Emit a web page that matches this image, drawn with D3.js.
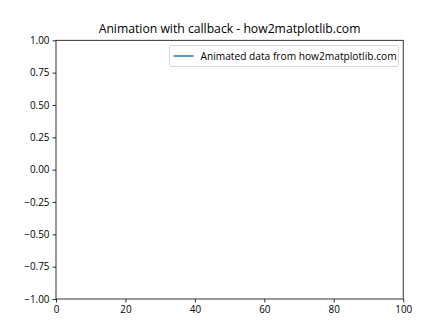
<!DOCTYPE html>
<html>
<head>
<meta charset="utf-8">
<script src="https://cdn.jsdelivr.net/npm/d3@7"></script>
<style>
  body { margin: 0; background: #fff; }
  text { font-family: "Open Sans", "Noto Sans", sans-serif; fill: #000; }
</style>
</head>
<body>
<div id="chart"></div>
<script>
// data (the animated line is still empty in this frame)
const xData = [];
const yData = [];
const xTicks = [0, 20, 40, 60, 80, 100];
const yTicks = [-1.00, -0.75, -0.50, -0.25, 0.00, 0.25, 0.50, 0.75, 1.00];
const title = 'Animation with callback - how2matplotlib.com';
const legendLabel = 'Animated data from how2matplotlib.com';

const width = 448, height = 336;
const margin = { left: 56, right: 44.8, top: 40.3, bottom: 37 };

const svg = d3.select('#chart').append('svg')
    .attr('width', width)
    .attr('height', height);

const x = d3.scaleLinear().domain([0, 100]).range([margin.left, width - margin.right]);
const y = d3.scaleLinear().domain([-1, 1]).range([height - margin.bottom, margin.top]);

// axes
const xAxis = svg.append('g')
    .attr('transform', `translate(0,${height - margin.bottom})`)
    .call(d3.axisBottom(x).tickValues(xTicks).tickSize(3.5).tickPadding(3).tickFormat(d3.format('d')));

const yAxis = svg.append('g')
    .attr('transform', `translate(${margin.left},0)`)
    .call(d3.axisLeft(y).tickValues(yTicks).tickSize(3.5).tickPadding(3).tickFormat(d3.format('.2f')));

[xAxis, yAxis].forEach(a => {
    a.select('.domain').remove();
    a.selectAll('.tick line').attr('stroke', '#000').attr('stroke-width', 0.8);
    a.selectAll('.tick text').style('font-size', '9.9px').attr('fill', '#000');
});

// frame
svg.append('rect')
    .attr('x', margin.left)
    .attr('y', margin.top)
    .attr('width', width - margin.left - margin.right)
    .attr('height', height - margin.top - margin.bottom)
    .attr('fill', 'none')
    .attr('stroke', '#000')
    .attr('stroke-width', 0.8);

// line
const line = d3.line().x((d, i) => x(xData[i])).y(d => y(d));
svg.append('path')
    .datum(yData)
    .attr('d', line)
    .attr('fill', 'none')
    .attr('stroke', '#1f77b4')
    .attr('stroke-width', 1.5);

// title
svg.append('text')
    .attr('x', (margin.left + width - margin.right) / 2)
    .attr('y', margin.top - 7)
    .attr('text-anchor', 'middle')
    .style('font-size', '12.2px')
    .text(title);

// legend
const legend = svg.append('g').attr('transform', 'translate(169.5,45.5)');
legend.append('rect')
    .attr('width', 229)
    .attr('height', 21)
    .attr('rx', 2)
    .attr('fill', '#fff')
    .attr('fill-opacity', 0.8)
    .attr('stroke', '#ccc')
    .attr('stroke-width', 0.8);
legend.append('line')
    .attr('x1', 4).attr('x2', 24)
    .attr('y1', 10.5).attr('y2', 10.5)
    .attr('stroke', '#1f77b4')
    .attr('stroke-width', 1.5);
legend.append('text')
    .attr('x', 31)
    .attr('y', 14)
    .style('font-size', '10.2px')
    .text(legendLabel);
</script>
</body>
</html>
